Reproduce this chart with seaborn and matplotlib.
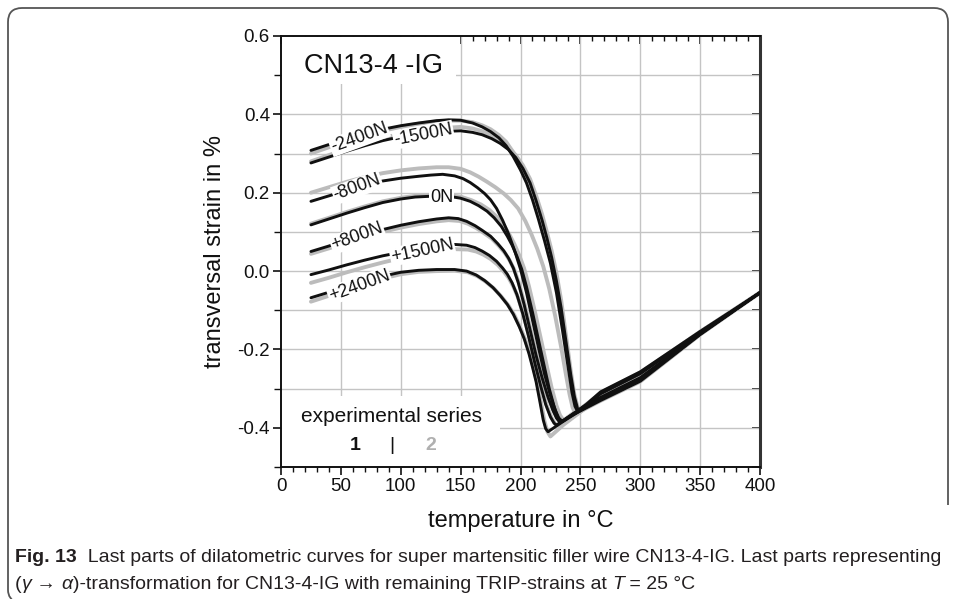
import matplotlib
matplotlib.use("Agg")
import matplotlib.pyplot as plt
from matplotlib.patches import Rectangle, PathPatch
from matplotlib.path import Path
from matplotlib.ticker import MultipleLocator, FixedLocator, NullFormatter
import pandas as pd
import seaborn as sns

# ---------------- data ----------------
# series 1 (black) and series 2 (grey), one pair of lists per load
T_m2400_1 = [25, 40, 55, 70, 85, 100, 115, 130, 140, 150, 160, 168, 175, 182, 188, 194, 200, 205, 210, 215, 220, 225, 230, 235, 240, 243, 245.5, 247.5, 255, 267, 300, 350, 400]
S_m2400_1 = [0.308, 0.323, 0.338, 0.351, 0.362, 0.371, 0.378, 0.384, 0.386, 0.385, 0.378, 0.368, 0.356, 0.340, 0.320, 0.292, 0.258, 0.225, 0.182, 0.132, 0.078, 0.020, -0.055, -0.150, -0.250, -0.310, -0.345, -0.357, -0.340, -0.308, -0.257, -0.154, -0.055]
T_m2400_2 = [25, 40, 55, 70, 85, 100, 115, 130, 140, 150, 160, 168, 175, 182, 188, 194, 200, 205, 210, 215, 220, 225, 230, 235, 239, 243, 246, 248.5, 255, 267, 300, 350, 400]
S_m2400_2 = [0.300, 0.316, 0.332, 0.346, 0.358, 0.368, 0.376, 0.382, 0.384, 0.384, 0.380, 0.372, 0.362, 0.347, 0.330, 0.303, 0.272, 0.240, 0.200, 0.155, 0.105, 0.050, -0.020, -0.110, -0.200, -0.290, -0.335, -0.356, -0.341, -0.310, -0.259, -0.155, -0.055]

T_m1500_1 = [25, 40, 55, 70, 85, 100, 115, 130, 140, 150, 160, 168, 176, 183, 190, 196, 202, 208, 213, 218, 222, 226, 230, 234, 238, 242, 245, 248, 255, 267, 300, 350, 400]
S_m1500_1 = [0.276, 0.291, 0.306, 0.320, 0.333, 0.343, 0.350, 0.355, 0.357, 0.358, 0.354, 0.348, 0.338, 0.326, 0.310, 0.290, 0.262, 0.225, 0.180, 0.130, 0.085, 0.035, -0.025, -0.095, -0.180, -0.265, -0.320, -0.355, -0.342, -0.313, -0.262, -0.156, -0.055]
T_m1500_2 = [25, 40, 55, 70, 85, 100, 115, 130, 140, 150, 160, 168, 176, 183, 190, 196, 202, 208, 213, 218, 222, 226, 230, 234, 238, 242, 245, 248, 250, 255, 267, 300, 350, 400]
S_m1500_2 = [0.280, 0.296, 0.312, 0.327, 0.340, 0.350, 0.358, 0.364, 0.366, 0.368, 0.364, 0.357, 0.346, 0.333, 0.316, 0.296, 0.270, 0.235, 0.193, 0.145, 0.100, 0.052, -0.005, -0.075, -0.165, -0.255, -0.315, -0.350, -0.357, -0.344, -0.315, -0.264, -0.156, -0.055]

T_m800_1 = [25, 40, 55, 70, 85, 100, 115, 125, 135, 145, 152, 158, 164, 170, 175, 180, 185, 190, 195, 200, 205, 210, 215, 220, 225, 229, 232, 235, 245, 255, 267, 300, 350, 400]
S_m800_1 = [0.178, 0.192, 0.206, 0.219, 0.230, 0.237, 0.242, 0.245, 0.247, 0.243, 0.236, 0.226, 0.213, 0.198, 0.182, 0.160, 0.130, 0.095, 0.053, 0.005, -0.055, -0.125, -0.195, -0.262, -0.318, -0.355, -0.375, -0.384, -0.362, -0.344, -0.322, -0.272, -0.159, -0.055]
T_m800_2 = [25, 40, 55, 70, 85, 100, 115, 130, 140, 150, 158, 165, 172, 179, 186, 192, 198, 204, 209, 214, 219, 224, 229, 234, 238, 241, 243.5, 245.5, 255, 267, 300, 350, 400]
S_m800_2 = [0.200, 0.214, 0.228, 0.240, 0.250, 0.257, 0.262, 0.265, 0.265, 0.261, 0.252, 0.241, 0.228, 0.214, 0.198, 0.181, 0.160, 0.128, 0.095, 0.057, 0.012, -0.045, -0.115, -0.195, -0.265, -0.315, -0.348, -0.362, -0.340, -0.312, -0.261, -0.155, -0.055]

T_0_1 = [25, 40, 55, 70, 85, 100, 112, 125, 140, 150, 158, 165, 172, 178, 184, 189, 193, 197, 201, 205, 210, 215, 220, 224, 228, 231, 233.5, 245, 255, 267, 300, 350, 400]
S_0_1 = [0.118, 0.133, 0.148, 0.162, 0.175, 0.184, 0.189, 0.191, 0.191, 0.186, 0.178, 0.167, 0.153, 0.136, 0.114, 0.089, 0.066, 0.038, 0.005, -0.040, -0.105, -0.175, -0.245, -0.300, -0.345, -0.372, -0.386, -0.362, -0.345, -0.324, -0.275, -0.160, -0.055]
T_0_2 = [25, 40, 55, 70, 85, 100, 112, 125, 140, 150, 159, 167, 174, 180, 186, 191, 195, 199, 203, 207, 212, 217, 222, 226, 230, 233, 236, 245, 255, 267, 300, 350, 400]
S_0_2 = [0.121, 0.136, 0.151, 0.165, 0.178, 0.187, 0.192, 0.194, 0.194, 0.190, 0.181, 0.170, 0.156, 0.139, 0.117, 0.092, 0.068, 0.040, 0.007, -0.038, -0.103, -0.173, -0.243, -0.298, -0.343, -0.368, -0.381, -0.360, -0.343, -0.320, -0.270, -0.158, -0.055]

T_p800_1 = [25, 40, 55, 70, 85, 100, 115, 130, 140, 148, 155, 162, 168, 175, 181, 186, 190, 194, 198, 203, 208, 213, 218, 223, 227, 230, 233, 245, 255, 267, 300, 350, 400]
S_p800_1 = [0.050, 0.064, 0.079, 0.093, 0.106, 0.117, 0.126, 0.133, 0.136, 0.134, 0.127, 0.116, 0.104, 0.089, 0.070, 0.052, 0.033, 0.008, -0.028, -0.085, -0.150, -0.215, -0.272, -0.322, -0.355, -0.375, -0.387, -0.364, -0.347, -0.327, -0.278, -0.161, -0.055]
T_p800_2 = [25, 40, 55, 70, 85, 100, 115, 130, 140, 149, 156, 163, 169, 176, 182, 187, 191, 195, 199, 204, 209, 214, 219, 224, 228, 231.5, 234.5, 245, 255, 267, 300, 350, 400]
S_p800_2 = [0.044, 0.058, 0.073, 0.087, 0.100, 0.111, 0.120, 0.127, 0.130, 0.128, 0.121, 0.110, 0.098, 0.083, 0.064, 0.046, 0.027, 0.002, -0.034, -0.091, -0.156, -0.221, -0.278, -0.327, -0.358, -0.377, -0.386, -0.365, -0.348, -0.328, -0.280, -0.161, -0.055]

T_p1500_1 = [25, 40, 55, 70, 85, 100, 115, 130, 145, 155, 162, 168, 174, 180, 185, 189, 193, 197, 202, 207, 212, 217, 221, 225, 228, 230, 240, 255, 267, 300, 350, 400]
S_p1500_1 = [-0.009, 0.003, 0.016, 0.028, 0.039, 0.048, 0.057, 0.064, 0.068, 0.066, 0.060, 0.051, 0.040, 0.025, 0.008, -0.008, -0.030, -0.060, -0.110, -0.170, -0.235, -0.295, -0.340, -0.372, -0.388, -0.393, -0.373, -0.349, -0.330, -0.281, -0.162, -0.055]
T_p1500_2 = [25, 40, 55, 70, 85, 100, 115, 130, 145, 156, 163, 169, 175, 181, 186, 190, 194, 198, 203, 208, 213, 218, 222, 226, 229, 231, 240, 255, 267, 300, 350, 400]
S_p1500_2 = [-0.030, -0.017, -0.003, 0.010, 0.022, 0.033, 0.042, 0.050, 0.056, 0.055, 0.050, 0.042, 0.031, 0.016, -0.001, -0.017, -0.039, -0.068, -0.117, -0.176, -0.240, -0.300, -0.344, -0.375, -0.390, -0.394, -0.375, -0.350, -0.331, -0.282, -0.162, -0.055]

T_p2400_1 = [25, 40, 55, 70, 85, 100, 115, 130, 145, 155, 163, 170, 177, 183, 189, 194, 199, 203, 207, 210, 213, 216, 219, 221, 223, 235, 255, 267, 300, 350, 400]
S_p2400_1 = [-0.068, -0.054, -0.040, -0.026, -0.013, -0.003, 0.002, 0.004, 0.004, 0.000, -0.010, -0.024, -0.042, -0.062, -0.085, -0.110, -0.142, -0.172, -0.210, -0.245, -0.282, -0.330, -0.380, -0.402, -0.410, -0.385, -0.346, -0.325, -0.276, -0.160, -0.055]
T_p2400_2 = [25, 40, 55, 70, 85, 100, 115, 130, 145, 156, 164, 171, 178, 184, 190, 195, 200, 204, 208, 211, 214, 217, 220, 222.5, 225, 236, 255, 267, 300, 350, 400]
S_p2400_2 = [-0.078, -0.063, -0.048, -0.033, -0.019, -0.008, -0.002, 0.000, 0.001, -0.003, -0.013, -0.027, -0.045, -0.065, -0.088, -0.113, -0.145, -0.175, -0.213, -0.248, -0.285, -0.333, -0.383, -0.410, -0.422, -0.392, -0.348, -0.327, -0.278, -0.161, -0.055]

load_names = ["-2400N", "-1500N", "-800N", "0N", "+800N", "+1500N", "+2400N"]
series1 = [(T_m2400_1, S_m2400_1), (T_m1500_1, S_m1500_1), (T_m800_1, S_m800_1), (T_0_1, S_0_1),
           (T_p800_1, S_p800_1), (T_p1500_1, S_p1500_1), (T_p2400_1, S_p2400_1)]
series2 = [(T_m2400_2, S_m2400_2), (T_m1500_2, S_m1500_2), (T_m800_2, S_m800_2), (T_0_2, S_0_2),
           (T_p800_2, S_p800_2), (T_p1500_2, S_p1500_2), (T_p2400_2, S_p2400_2)]

# label positions (temperature, strain, rotation)
label_T = [65.3, 118.8, 63.6, 134.3, 63.6, 118.0, 65.3]
label_S = [0.340, 0.348, 0.213, 0.189, 0.088, 0.052, -0.037]
label_rot = [20, 11, 20, 0, 20, 12, 20]

x_ticks = [0, 50, 100, 150, 200, 250, 300, 350, 400]
y_ticks = [-0.4, -0.2, 0.0, 0.2, 0.4, 0.6]
y_ticklabels = ["-0.4", "-0.2", "0.0", "0.2", "0.4", "0.6"]

caption_bold = "Fig. 13"
caption_line1 = "  Last parts of dilatometric curves for super martensitic filler wire CN13-4-IG. Last parts representing"
caption_line2 = [("(", False), ("γ", True), (" → ", False), ("α", True),
                 (")-transformation for CN13-4-IG with remaining TRIP-strains at ", False),
                 ("T", True), (" = 25 °C", False)]

# ---------------- build table ----------------
rows = []
for ser, data in ((1, series1), (2, series2)):
    for name, (T, S) in zip(load_names, data):
        for t, s in zip(T, S):
            rows.append({"T": t, "S": s, "curve": f"{name}_{ser}", "series": ser})
df = pd.DataFrame(rows)

sns.set_theme(style="white")
plt.rcParams["font.family"] = ["Liberation Sans", "DejaVu Sans"]
plt.rcParams["lines.solid_joinstyle"] = "round"
plt.rcParams["lines.solid_capstyle"] = "round"

W, H = 955, 599
fig = plt.figure(figsize=(W / 100, H / 100), dpi=100)
fig.patch.set_facecolor("white")
L, R, Tp, B = 281, 760, 36, 467
ax = fig.add_axes([L / W, 1 - B / H, (R - L) / W, (B - Tp) / H])
ax.set_facecolor("white")
ax.set_xlim(0, 400)
ax.set_ylim(-0.5, 0.6)

# grid
for x in x_ticks[1:-1]:
    ax.axvline(x, color="#c4c4c4", lw=1.0, zorder=0.5)
for k in range(-4, 6):
    ax.axhline(k / 10, color="#c4c4c4", lw=1.0, zorder=0.5)

# white boxes behind annotations
ax.add_patch(Rectangle((0.5, 0.478), 146, 0.12, facecolor="white", edgecolor="none", zorder=1))
ax.add_patch(Rectangle((0.5, -0.498), 182, 0.18, facecolor="white", edgecolor="none", zorder=1))

sns.lineplot(data=df[df.series == 2], x="T", y="S", units="curve", estimator=None, sort=False,
             color="#bcbcbc", lw=2.8, ax=ax, legend=False, zorder=2)
sns.lineplot(data=df[df.series == 1], x="T", y="S", units="curve", estimator=None, sort=False,
             color="#101010", lw=2.1, ax=ax, legend=False, zorder=3)

for name, tx, sy, rot in zip(load_names, label_T, label_S, label_rot):
    ax.text(tx, sy, name, fontsize=13, rotation=rot, rotation_mode="anchor", ha="center", va="center",
            color="#111111", zorder=5,
            bbox=dict(boxstyle="square,pad=0.05", facecolor="white", edgecolor="none"))

ax.text(19, 0.523, "CN13-4 -IG", fontsize=19.5, ha="left", va="center", color="#111111", zorder=5)
ax.text(16.5, -0.37, "experimental series", fontsize=15, ha="left", va="center", color="#111111", zorder=5)
ax.text(62, -0.446, "1", fontsize=14, fontweight="bold", ha="center", va="center", color="#111111", zorder=5)
ax.text(92.6, -0.446, "|", fontsize=14, ha="center", va="center", color="#111111", zorder=5)
ax.text(124.7, -0.446, "2", fontsize=14, fontweight="bold", ha="center", va="center", color="#b0b0b0", zorder=5)

# ticks
ax.set_xticks(x_ticks)
ax.xaxis.set_minor_locator(MultipleLocator(10))
ax.set_yticks(y_ticks)
ax.set_yticklabels(y_ticklabels)
ax.yaxis.set_minor_locator(FixedLocator([-0.5, -0.3, -0.1, 0.1, 0.3, 0.5]))
ax.tick_params(axis="both", which="major", direction="out", length=6, width=1.2, labelsize=13.5,
               colors="#111111", bottom=True, left=True, top=False, right=False, pad=2)
ax.tick_params(axis="both", which="minor", direction="out", length=3.5, width=1.0,
               bottom=True, left=True, top=False, right=False, color="#111111")
ax.tick_params(axis="y", which="minor", length=5)

secx = ax.secondary_xaxis("top")
secx.set_xticks(x_ticks)
secx.xaxis.set_minor_locator(MultipleLocator(10))
secx.xaxis.set_major_formatter(NullFormatter())
secx.tick_params(which="major", direction="in", length=6, width=1.2, color="#111111")
secx.tick_params(which="minor", direction="in", length=3.5, width=1.0, color="#111111")
secx.spines["top"].set_visible(False)

secy = ax.secondary_yaxis("right")
secy.set_yticks([k / 10 for k in range(-5, 7)])
secy.yaxis.set_major_formatter(NullFormatter())
secy.tick_params(which="major", direction="in", length=6, width=1.2, color="#111111")
secy.spines["right"].set_visible(False)

for sp in ["left", "bottom", "top"]:
    ax.spines[sp].set_color("#111111")
    ax.spines[sp].set_linewidth(1.4)
ax.spines["right"].set_color("#333333")
ax.spines["right"].set_linewidth(2.2)

ax.set_xlabel("temperature in °C", fontsize=17, color="#111111", labelpad=11)
ax.set_ylabel("transversal strain in %", fontsize=17, color="#111111", labelpad=8)


# ---------------- frame around the figure (open on lower right) ----------------
def P(x, y):
    return (x / W, 1 - y / H)


r = 14
x0, x1, y0 = 8, 948, 8
verts = [P(x1, 505), P(x1, y0 + r), P(x1, y0), P(x1 - r, y0),
         P(x0 + r, y0), P(x0, y0), P(x0, y0 + r),
         P(x0, 590), P(x0, 599), P(x0 + 9, 603)]
codes = [Path.MOVETO, Path.LINETO, Path.CURVE3, Path.CURVE3,
         Path.LINETO, Path.CURVE3, Path.CURVE3,
         Path.LINETO, Path.CURVE3, Path.CURVE3]
fig.patches.append(PathPatch(Path(verts, codes), transform=fig.transFigure, facecolor="none",
                             edgecolor="#555555", lw=1.3))

# ---------------- caption ----------------
fig.canvas.draw()
renderer = fig.canvas.get_renderer()

probe = fig.text(0, 0, caption_bold + caption_line1, fontsize=14)
w_probe = probe.get_window_extent(renderer=renderer).width
probe.remove()
cap_size = 14 * 925 / w_probe


def write_pieces(xs, ys, pieces):
    x = xs
    for txt, kw in pieces:
        t = fig.text(x / W, 1 - ys / H, txt, fontsize=cap_size, ha="left", va="baseline",
                     color="#231f20", **kw)
        x += t.get_window_extent(renderer=renderer).width


write_pieces(15, 562, [(caption_bold, {"fontweight": "bold"}), (caption_line1, {})])
write_pieces(15, 589, [(txt, {"style": "italic"} if it else {}) for txt, it in caption_line2])

fig.savefig("out.png", dpi=100, facecolor="white")
